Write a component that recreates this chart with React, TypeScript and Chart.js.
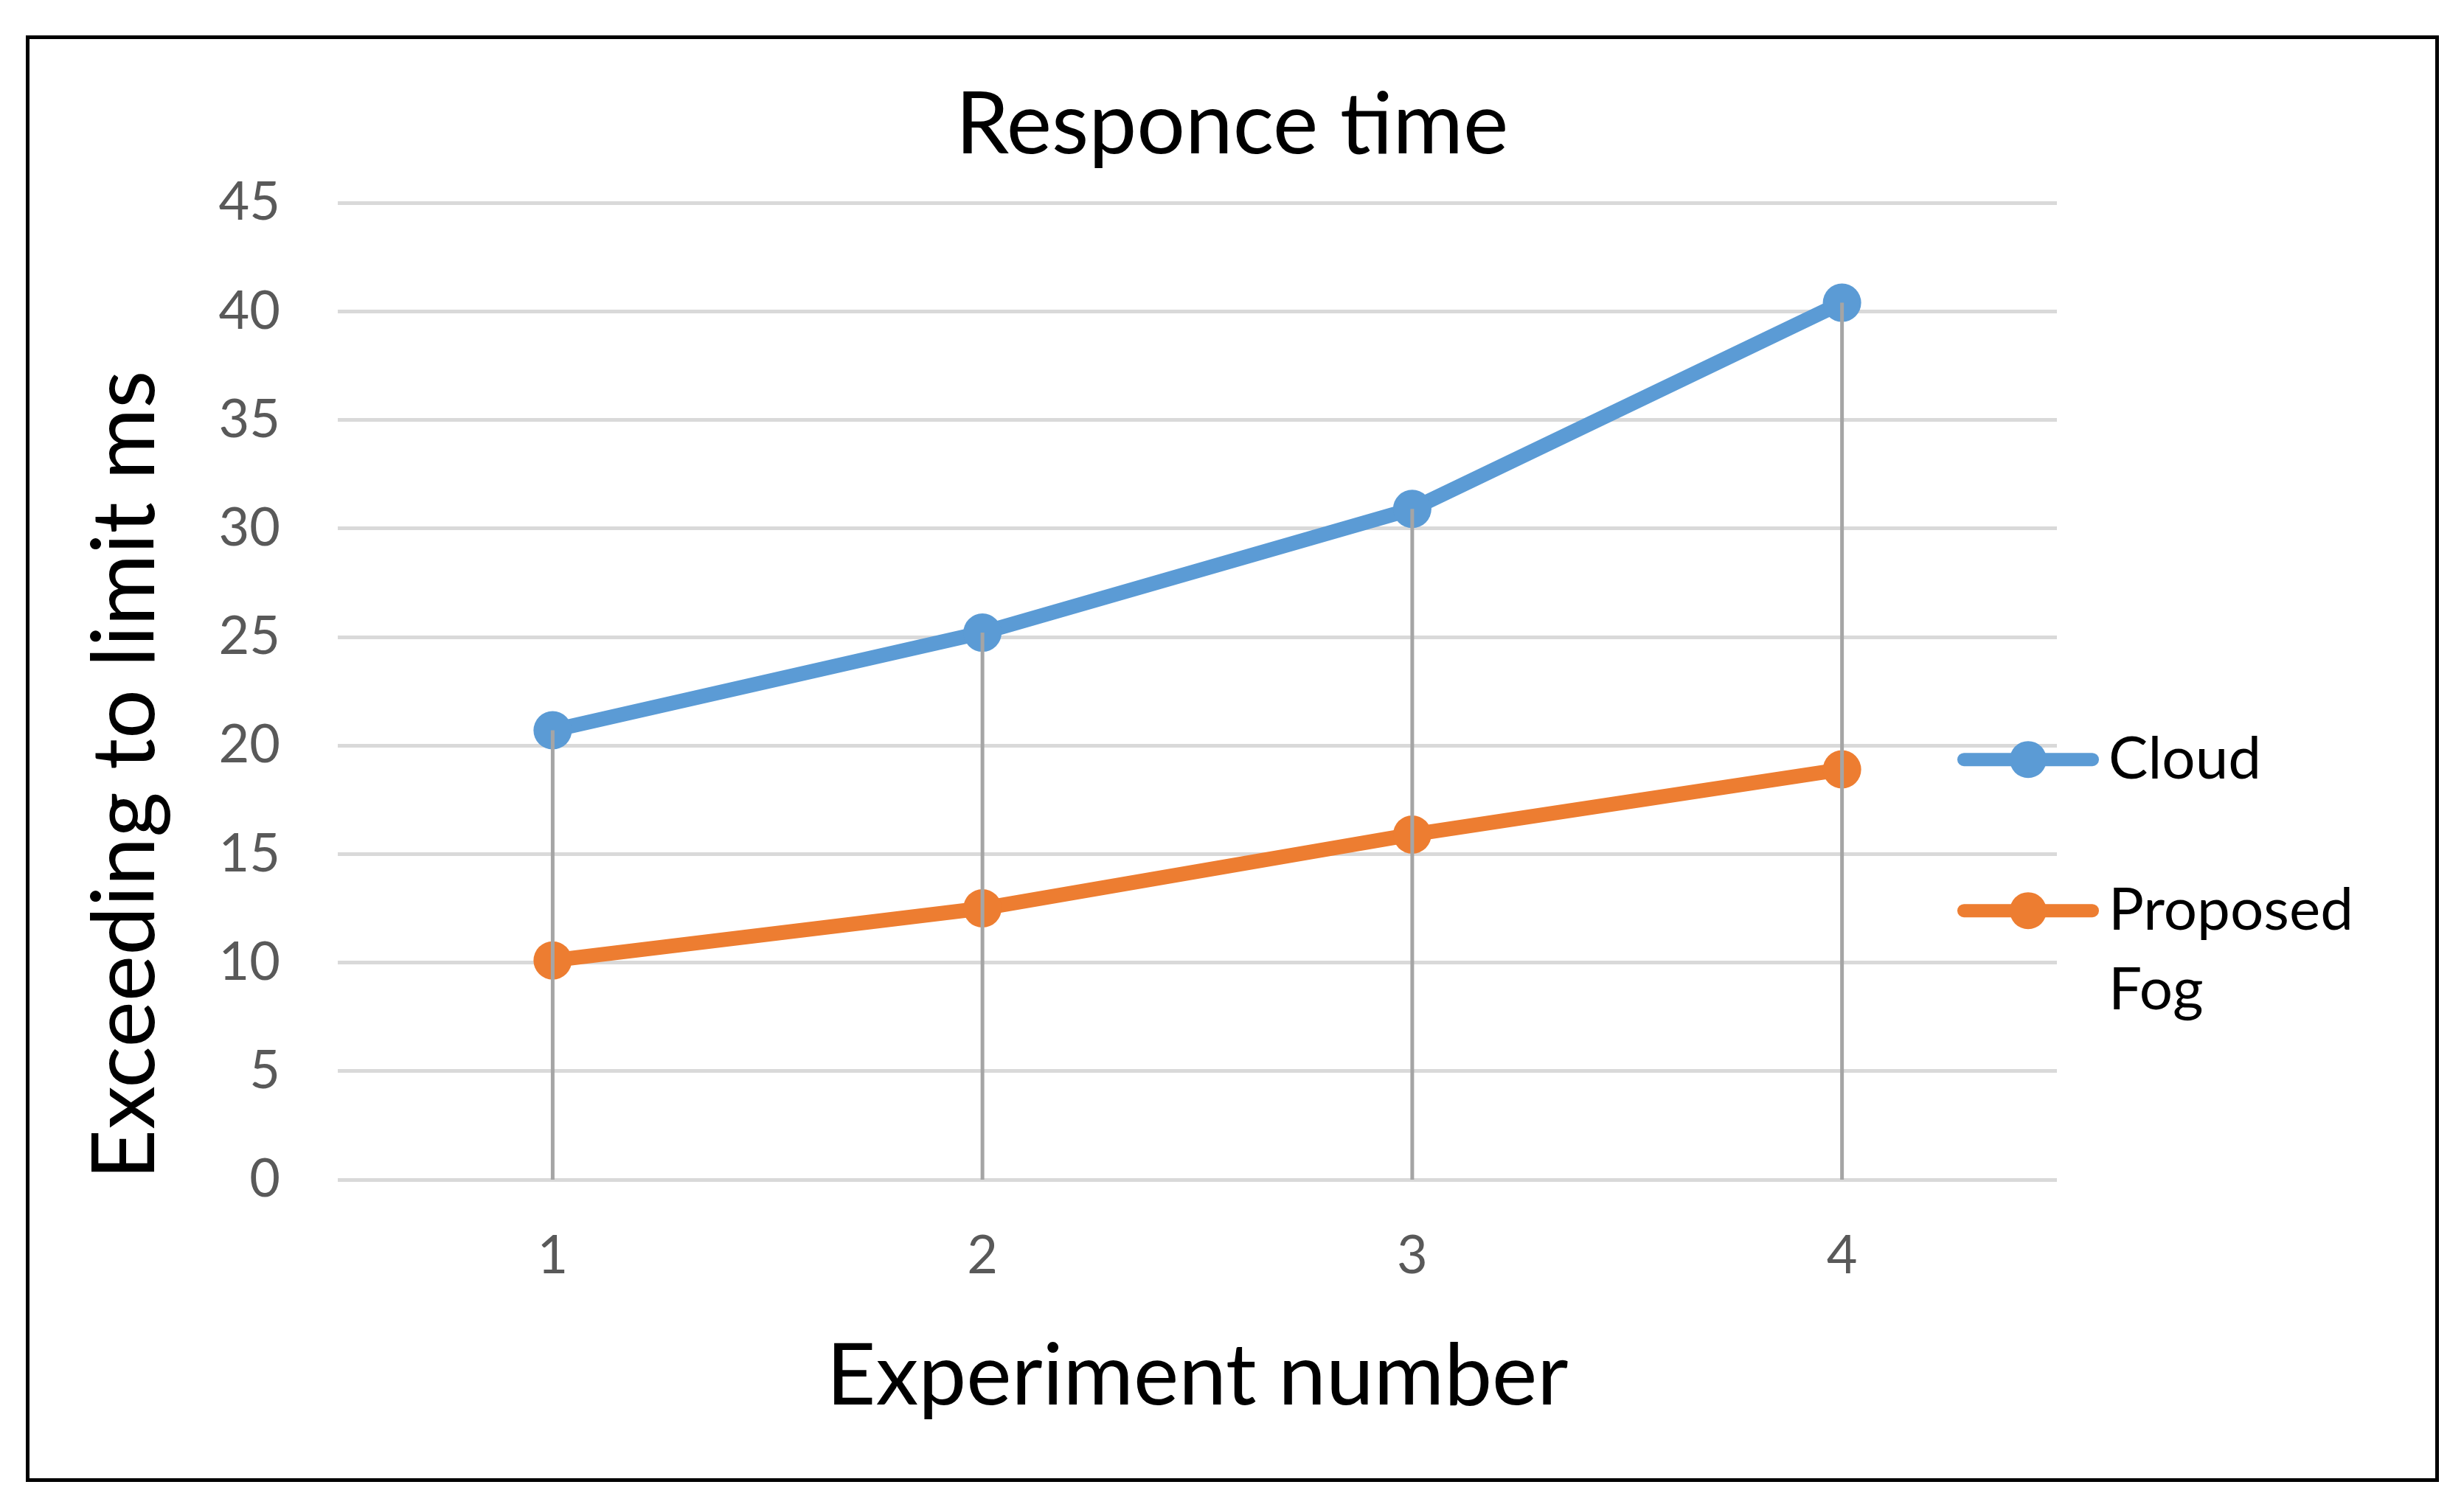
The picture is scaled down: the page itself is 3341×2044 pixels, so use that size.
import React, { useEffect, useRef } from 'react';
import { Chart, registerables } from 'chart.js';

Chart.register(...registerables);

const categories = ['1', '2', '3', '4'];
const cloudValues = [20.7, 25.2, 30.9, 40.4];
const fogValues = [10.1, 12.5, 15.9, 18.9];
const seriesNames = ['Cloud', 'Proposed Fog'];
const seriesColors = ['#5B9BD5', '#ED7D31'];
const yMin = 0;
const yMax = 45;
const yStep = 5;
const chartTitle = 'Responce time';
const xTitle = 'Experiment number';
const yTitle = 'Exceeding to limit ms';

const FONT = 'Lato, "Open Sans", sans-serif';

const dropLines = {
  id: 'dropLines',
  afterDatasetsDraw(chart: any) {
    const { ctx } = chart;
    const y = chart.scales.y;
    const metas = chart.data.datasets.map((_: any, i: number) => chart.getDatasetMeta(i));
    ctx.save();
    ctx.strokeStyle = '#A5A5A5';
    ctx.lineWidth = 5;
    categories.forEach((_, i) => {
      let top = Infinity;
      let px = 0;
      metas.forEach((m: any) => {
        const el = m.data[i];
        if (el && el.y < top) {
          top = el.y;
          px = el.x;
        }
      });
      ctx.beginPath();
      ctx.moveTo(px, top);
      ctx.lineTo(px, y.getPixelForValue(0));
      ctx.stroke();
    });
    ctx.restore();
  },
};

const sideLegend = {
  id: 'sideLegend',
  afterDraw(chart: any) {
    const { ctx, chartArea } = chart;
    const r = chartArea.right;
    const x0 = r - 126;
    const x1 = r + 48;
    const mx = r - 39;
    const tx = r + 70;
    const maxW = 420;
    let cy = chartArea.top + 755;
    ctx.save();
    ctx.font = `80px ${FONT}`;
    ctx.textBaseline = 'alphabetic';
    ctx.textAlign = 'left';
    chart.data.datasets.forEach((ds: any) => {
      ctx.strokeStyle = ds.borderColor;
      ctx.lineWidth = 18;
      ctx.lineCap = 'round';
      ctx.beginPath();
      ctx.moveTo(x0, cy);
      ctx.lineTo(x1, cy);
      ctx.stroke();
      ctx.fillStyle = ds.borderColor;
      ctx.beginPath();
      ctx.arc(mx, cy, 25, 0, Math.PI * 2);
      ctx.fill();
      const words = String(ds.label).split(' ');
      const lines: string[] = [];
      let cur = '';
      words.forEach((w) => {
        const t = cur ? cur + ' ' + w : w;
        if (ctx.measureText(t).width > maxW && cur) {
          lines.push(cur);
          cur = w;
        } else cur = t;
      });
      if (cur) lines.push(cur);
      ctx.fillStyle = '#000';
      lines.forEach((ln, j) => ctx.fillText(ln, tx, cy + 26 + j * 108));
      cy += 205;
    });
    ctx.restore();
  },
};

export default function App() {
  const ref = useRef<HTMLCanvasElement>(null);
  useEffect(() => {
    const chart = new Chart(ref.current as HTMLCanvasElement, {
      type: 'line',
      data: {
        labels: categories,
        datasets: [
          {
            label: seriesNames[0],
            data: cloudValues,
            borderColor: seriesColors[0],
            backgroundColor: seriesColors[0],
            borderWidth: 20,
            pointRadius: 26,
            pointBorderWidth: 0,
            pointBackgroundColor: seriesColors[0],
            tension: 0,
          },
          {
            label: seriesNames[1],
            data: fogValues,
            borderColor: seriesColors[1],
            backgroundColor: seriesColors[1],
            borderWidth: 20,
            pointRadius: 26,
            pointBorderWidth: 0,
            pointBackgroundColor: seriesColors[1],
            tension: 0,
          },
        ],
      },
      options: {
        animation: false,
        responsive: false,
        devicePixelRatio: 1,
        layout: { padding: 0 },
        font: { family: FONT },
        plugins: {
          legend: { display: false },
          tooltip: { enabled: false },
          title: {
            display: true,
            text: chartTitle,
            color: '#000',
            font: { family: FONT, size: 116, weight: 'normal' },
            padding: { top: 101, bottom: 35 },
          },
        },
        scales: {
          x: {
            type: 'category',
            offset: true,
            grid: { display: false, drawTicks: false },
            border: { display: false },
            ticks: { color: '#595959', font: { family: FONT, size: 72 }, padding: 61 },
            title: {
              display: true,
              text: xTitle,
              color: '#000',
              font: { family: FONT, size: 116 },
              padding: { top: 0, bottom: 107 },
            },
            afterFit: (s: any) => {
              s.height = 444;
            },
          },
          y: {
            type: 'linear',
            min: yMin,
            max: yMax,
            ticks: { stepSize: yStep, color: '#595959', font: { family: FONT, size: 72 }, padding: 78 },
            grid: { color: '#D9D9D9', lineWidth: 5, drawTicks: false },
            border: { display: false },
            title: {
              display: true,
              text: yTitle,
              color: '#000',
              align: 'start',
              font: { family: FONT, size: 118 },
              padding: { top: 100, bottom: 0 },
            },
            afterFit: (s: any) => {
              s.width = 458;
            },
          },
          yPad: {
            type: 'linear',
            position: 'right',
            display: true,
            grid: { display: false, drawTicks: false },
            border: { display: false },
            ticks: { display: false },
            afterFit: (s: any) => {
              s.width = 552;
            },
          },
        },
      } as any,
      plugins: [dropLines, sideLegend],
    });
    return () => chart.destroy();
  }, []);

  return (
    <div style={{ position: 'fixed', left: 0, top: 0, width: 3341, height: 2044, background: '#fff' }}>
      <canvas ref={ref} width={3341} height={2044} style={{ position: 'absolute', left: 0, top: 0, width: 3341, height: 2044 }} />
      <div
        style={{
          position: 'absolute',
          left: 35,
          top: 48,
          width: 3272,
          height: 1962,
          border: '5px solid #000',
          boxSizing: 'border-box',
          pointerEvents: 'none',
        }}
      />
    </div>
  );
}
